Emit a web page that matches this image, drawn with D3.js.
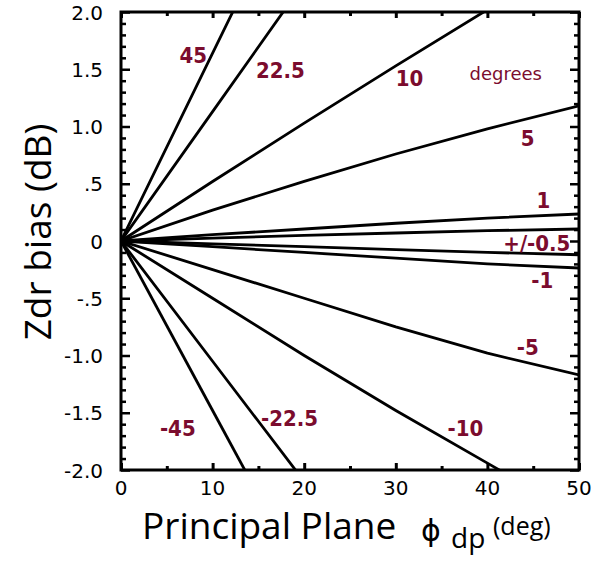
<!DOCTYPE html>
<html>
<head>
<meta charset="utf-8">
<script src="https://cdn.jsdelivr.net/npm/d3@7"></script>
<style>
  body { margin: 0; background: #fff; }
  .tick-label { font-family: "DejaVu Sans", sans-serif; font-size: 20px; fill: #000; }
  .curve-label { font-family: "DejaVu Sans Condensed", "DejaVu Sans", sans-serif; font-weight: bold; font-size: 22px; fill: #7b0c2e; }
</style>
</head>
<body>
<div id="chart"></div>
<script>
// phi_dp sample points (deg)
var phi = [0, 10, 20, 30, 40, 50];

// Zdr bias (dB) for each canting angle
var angles = ["45", "22.5", "10", "5", "1", "0.5", "-0.5", "-1", "-5", "-10", "-22.5", "-45"];
var bias45 = [0, 1.64, 3.28];
var bias22 = [0, 1.13, 2.26];
var bias10 = [0, 0.52, 1.03, 1.53, 2.02, 2.5];
var bias5 = [0, 0.27, 0.52, 0.76, 0.98, 1.18];
var bias1 = [0, 0.055, 0.105, 0.155, 0.2, 0.236];
var biasP05 = [0, 0.025, 0.05, 0.07, 0.09, 0.105];
var biasM05 = [0, -0.025, -0.05, -0.075, -0.1, -0.12];
var biasM1 = [0, -0.05, -0.1, -0.15, -0.2, -0.236];
var biasM5 = [0, -0.25, -0.5, -0.75, -0.98, -1.17];
var biasM10 = [0, -0.5, -1.0, -1.48, -1.94, -2.4];
var biasM22 = [0, -1.05, -2.1];
var biasM45 = [0, -1.48, -2.96];
var series = [bias45, bias22, bias10, bias5, bias1, biasP05, biasM05, biasM1, biasM5, biasM10, biasM22, biasM45];

// curve labels: text, phi, dB
var labelText = ["45", "22.5", "10", "5", "1", "+/-0.5", "-1", "-5", "-10", "-22.5", "-45"];
var labelPhi = [7.9, 17.4, 31.5, 44.4, 46.1, 45.4, 46.0, 44.4, 37.6, 18.4, 6.2];
var labelDb = [1.62, 1.49, 1.42, 0.9, 0.36, -0.02, -0.34, -0.93, -1.63, -1.55, -1.63];

var xTicks = [0, 10, 20, 30, 40, 50];
var yTicks = [2, 1.5, 1, 0.5, 0, -0.5, -1, -1.5, -2];
var yTickLabels = ["2.0", "1.5", "1.0", ".5", "0", "-.5", "-1.0", "-1.5", "-2.0"];

var width = 608, height = 561;
var margin = {top: 12, right: 29, bottom: 91, left: 121};
var w = width - margin.left - margin.right,
    h = height - margin.top - margin.bottom;

var x = d3.scaleLinear().domain([0, 50]).range([0, w]);
var y = d3.scaleLinear().domain([-2, 2]).range([h, 0]);

var svg = d3.select("#chart").append("svg")
    .attr("width", width)
    .attr("height", height);

svg.append("defs").append("clipPath").attr("id", "clip")
  .append("rect").attr("width", w).attr("height", h);

var g = svg.append("g")
    .attr("transform", "translate(" + margin.left + "," + margin.top + ")");

// ticks - inward on all four sides
var minorX = d3.range(0, 51, 5);
var minorY = d3.range(-20, 21).map(function(d) { return d / 10; });

g.append("g").call(d3.axisBottom(x).tickValues(minorX).tickSize(-4).tickFormat(""))
  .attr("transform", "translate(0," + h + ")")
  .call(function(a) { a.select(".domain").remove(); a.selectAll("line").attr("stroke-width", 3).attr("y2", function(d) { return d % 10 === 0 ? -7 : -4; }); });
g.append("g").call(d3.axisTop(x).tickValues(minorX).tickSize(-4).tickFormat(""))
  .call(function(a) { a.select(".domain").remove(); a.selectAll("line").attr("stroke-width", 3).attr("y2", function(d) { return d % 10 === 0 ? 6 : 4; }); });
g.append("g").call(d3.axisLeft(y).tickValues(minorY).tickSize(-5).tickFormat(""))
  .call(function(a) { a.select(".domain").remove(); a.selectAll("line").attr("stroke-width", 2.5).attr("x2", function(d) { return Math.abs(Math.round(d * 10)) % 5 === 0 ? 9 : 5; }); });
g.append("g").call(d3.axisRight(y).tickValues(minorY).tickSize(-5).tickFormat(""))
  .attr("transform", "translate(" + w + ",0)")
  .call(function(a) { a.select(".domain").remove(); a.selectAll("line").attr("stroke-width", 2.5).attr("x2", function(d) { return Math.abs(Math.round(d * 10)) % 5 === 0 ? -9 : -5; }); });

// tick labels
g.selectAll(".xl").data(xTicks).enter().append("text")
  .attr("class", "tick-label")
  .attr("x", function(d) { return x(d); })
  .attr("y", h + 25)
  .attr("text-anchor", "middle")
  .text(function(d) { return d; });

g.selectAll(".yl").data(yTicks).enter().append("text")
  .attr("class", "tick-label")
  .attr("x", -18)
  .attr("y", function(d) { return y(d) + 7.5; })
  .attr("text-anchor", "end")
  .text(function(d, i) { return yTickLabels[i]; });

// curves
var line = d3.line()
  .x(function(d, i) { return x(phi[i]); })
  .y(function(d) { return y(d); });

g.append("g").attr("clip-path", "url(#clip)")
  .selectAll("path").data(series).enter().append("path")
  .attr("d", line)
  .attr("fill", "none")
  .attr("stroke", "#000")
  .attr("stroke-width", 2.8)
  .attr("stroke-linejoin", "round");

// frame
g.append("rect")
  .attr("width", w).attr("height", h)
  .attr("fill", "none").attr("stroke", "#000").attr("stroke-width", 3);

// curve labels
g.selectAll(".cl").data(labelText).enter().append("text")
  .attr("class", "curve-label")
  .attr("x", function(d, i) { return x(labelPhi[i]); })
  .attr("y", function(d, i) { return y(labelDb[i]); })
  .attr("dy", "0.36em")
  .attr("text-anchor", "middle")
  .text(function(d) { return d; });

g.append("text")
  .attr("x", x(42)).attr("y", y(1.46))
  .attr("dy", "0.36em")
  .attr("text-anchor", "middle")
  .style("font-family", "'DejaVu Sans', sans-serif")
  .style("font-size", "18px")
  .style("fill", "#7b0c2e")
  .text("degrees");

// axis titles
svg.append("text")
  .attr("transform", "translate(51,232) rotate(-90)")
  .attr("text-anchor", "middle")
  .style("font-family", "'Open Sans', 'DejaVu Sans', sans-serif")
  .style("font-size", "37px")
  .text("Zdr bias (dB)");

var titleFont = "'Open Sans', 'DejaVu Sans', sans-serif";
svg.append("text")
  .attr("x", 142).attr("y", 539)
  .style("font-family", titleFont)
  .style("font-size", "37px")
  .text("Principal Plane");
svg.append("text")
  .attr("x", 421).attr("y", 541)
  .style("font-family", "'DejaVu Sans', sans-serif")
  .style("font-size", "30px")
  .text("\u03d5");
svg.append("text")
  .attr("x", 451).attr("y", 548)
  .style("font-family", titleFont)
  .style("font-size", "28px")
  .text("dp");
svg.append("text")
  .attr("x", 493).attr("y", 535)
  .style("font-family", titleFont)
  .style("font-size", "25px")
  .text("(deg)");
</script>
</body>
</html>
